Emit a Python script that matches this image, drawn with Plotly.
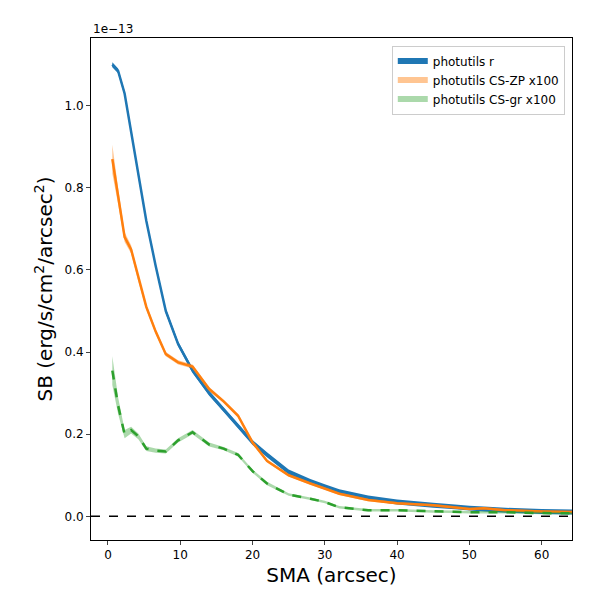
import plotly.graph_objects as go

sma = [0.6,1.4,2.3,3.2,4.2,5.3,6.6,8.0,9.7,11.7,14,16,18,20,22,25,28,30,32,36,40,45,48,50,52,55,60,66]
r   = [1.10,1.085,1.03,0.94,0.83,0.72,0.61,0.50,0.42,0.355,0.30,0.26,0.22,0.18,0.15,0.108,0.085,0.072,0.06,0.045,0.035,0.027,0.023,0.02,0.018,0.015,0.012,0.01]
r_err = [0.006]*len(sma)
zp  = [0.87,0.78,0.68,0.65,0.58,0.51,0.45,0.395,0.375,0.365,0.31,0.28,0.245,0.18,0.135,0.10,0.08,0.068,0.055,0.04,0.032,0.027,0.022,0.018,0.02,0.015,0.012,0.01]
zp_err = [0.035,0.02,0.012,0.01,0.008,0.007,0.006,0.005,0.005,0.005,0.005,0.004,0.004,0.004,0.004,0.003,0.003,0.003,0.003,0.003,0.003,0.003,0.003,0.003,0.003,0.003,0.003,0.003]
gr  = [0.355,0.27,0.20,0.21,0.195,0.165,0.16,0.158,0.185,0.205,0.175,0.165,0.15,0.11,0.08,0.053,0.043,0.035,0.022,0.015,0.015,0.012,0.011,0.01,0.01,0.01,0.008,0.007]
gr_err = [0.035,0.02,0.01,0.008,0.007,0.006,0.005,0.005,0.005,0.005,0.005,0.004,0.004,0.004,0.004,0.003,0.003,0.003,0.003,0.003,0.003,0.003,0.003,0.003,0.003,0.003,0.003,0.003]

fig = go.Figure()
def band(y, e, fillc, name):
    up = [a+b for a,b in zip(y,e)]
    lo = [a-b for a,b in zip(y,e)]
    fig.add_trace(go.Scatter(x=sma+sma[::-1], y=up+lo[::-1], fill='toself', fillcolor=fillc,
                             mode='none', name=name, hoverinfo='skip'))

band(r, r_err, '#1f77b4', 'photutils r')
fig.add_trace(go.Scatter(x=sma, y=r, mode='lines', line=dict(color='#1f77b4', width=2.5), showlegend=False))
band(zp, zp_err, 'rgba(255,127,14,0.45)', 'photutils CS-ZP x100')
fig.add_trace(go.Scatter(x=sma, y=zp, mode='lines', line=dict(color='#ff7f0e', width=2.5), showlegend=False))
band(gr, gr_err, 'rgba(44,160,44,0.4)', 'photutils CS-gr x100')
fig.add_trace(go.Scatter(x=sma, y=gr, mode='lines', line=dict(color='#2ca02c', width=2.5, dash='dash'), showlegend=False))

fig.add_shape(type='line', xref='paper', x0=0, x1=1, y0=0, y1=0, line=dict(color='black', width=1.5, dash='dash'))

fig.update_layout(
    width=600, height=600, plot_bgcolor='white', paper_bgcolor='white',
    margin=dict(l=83, r=36, t=30, b=68),
    font=dict(family='DejaVu Sans', color='black', size=12),
    legend=dict(x=0.985, y=0.985, xanchor='right', yanchor='top', bordercolor='#cccccc', borderwidth=1,
                bgcolor='rgba(255,255,255,0.8)', font=dict(size=12)),
    xaxis=dict(range=[-2.35, 64.2], tickvals=[0,10,20,30,40,50,60], showgrid=False, zeroline=False,
               showline=True, linecolor='black', mirror=True, ticks='outside', ticklen=4,
               title=dict(text='SMA (arcsec)', font=dict(size=20), standoff=6)),
    yaxis=dict(range=[-0.0576, 1.165], tickvals=[0,0.2,0.4,0.6,0.8,1.0], tickformat='.1f', showgrid=False,
               zeroline=False, showline=True, linecolor='black', mirror=True, ticks='outside', ticklen=4,
               title=dict(text='SB (erg/s/cm<sup>2</sup>/arcsec<sup>2</sup>)', font=dict(size=20), standoff=6)),
    annotations=[dict(text='1e\u221213', xref='paper', yref='paper', x=0, y=1.0, xanchor='left',
                      yanchor='bottom', showarrow=False, font=dict(size=12))]
)
fig.write_html('out.html')
